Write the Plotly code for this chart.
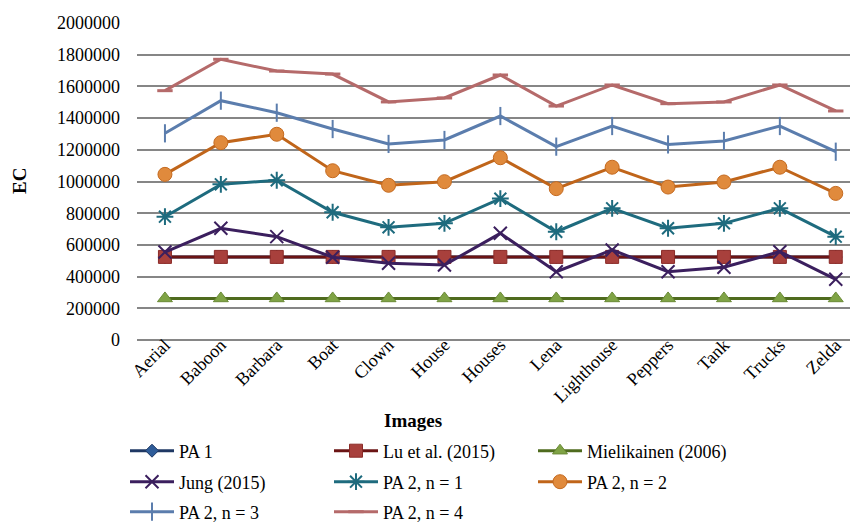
import plotly.graph_objects as go

images = ["Aerial", "Baboon", "Barbara", "Boat", "Clown", "House", "Houses",
          "Lena", "Lighthouse", "Peppers", "Tank", "Trucks", "Zelda"]

pa1 = [524288] * 13
lu_2015 = [524288] * 13
mielikainen_2006 = [262144] * 13
jung_2015 = [555000, 705000, 652000, 522000, 484000, 473000, 673000,
             431000, 568000, 431000, 459000, 557000, 383000]
pa2_n1 = [778000, 982000, 1008000, 806000, 711000, 736000, 892000,
          683000, 831000, 705000, 736000, 831000, 652000]
pa2_n2 = [1045000, 1245000, 1298000, 1068000, 976000, 999000, 1150000,
          955000, 1090000, 965000, 997000, 1090000, 925000]
pa2_n3 = [1304000, 1510000, 1434000, 1331000, 1237000, 1262000, 1413000,
          1220000, 1350000, 1234000, 1256000, 1350000, 1188000]
pa2_n4 = [1573000, 1771000, 1697000, 1678000, 1502000, 1527000, 1672000,
          1476000, 1609000, 1491000, 1502000, 1609000, 1445000]

yticks = [0, 200000, 400000, 600000, 800000, 1000000, 1200000, 1400000,
          1600000, 1800000, 2000000]

FONT = "Liberation Serif, Times New Roman, serif"

series = [
    ("PA 1", pa1, "#1F3864", dict(symbol="diamond", size=10, color="#2E5C99",
                                   line=dict(color="#1F3864", width=1)), "legend"),
    ("Lu et al. (2015)", lu_2015, "#6B1414", dict(symbol="square", size=13, color="#A8403C",
                                                  line=dict(color="#8B2A27", width=1)), "legend"),
    ("Mielikainen (2006)", mielikainen_2006, "#4F6B1E", dict(symbol="triangle-up", size=13,
                                                          color="#7FA345",
                                                          line=dict(color="#6A8A36", width=1)), "legend"),
    ("Jung (2015)", jung_2015, "#3B1F5E", dict(symbol="x-thin-open", size=13,
                                               line=dict(color="#3B1F5E", width=2)), "legend2"),
    ("PA 2, n = 1", pa2_n1, "#1E6B7E", dict(symbol="asterisk-open", size=14,
                                            line=dict(color="#1E6B7E", width=2)), "legend2"),
    ("PA 2, n = 2", pa2_n2, "#C0651A", dict(symbol="circle", size=14, color="#E08A3C",
                                            line=dict(color="#C46A20", width=1)), "legend2"),
    ("PA 2, n = 3", pa2_n3, "#5B7DAD", dict(symbol="line-ns-open", size=13,
                                            line=dict(color="#5B7DAD", width=2)), "legend3"),
    ("PA 2, n = 4", pa2_n4, "#B56A6A", dict(symbol="line-ew-open", size=11,
                                            line=dict(color="#B56A6A", width=3)), "legend3"),
]

fig = go.Figure()
for name, vals, col, mk, lg in series:
    fig.add_trace(go.Scatter(
        x=images, y=vals, name=name, mode="lines+markers",
        line=dict(color=col, width=3), marker=mk, legend=lg,
    ))

legend_common = dict(
    orientation="h", xref="container", yref="container",
    xanchor="left", yanchor="middle", x=125 / 850,
    font=dict(family=FONT, size=18, color="#000000"),
    entrywidth=145, entrywidthmode="pixels", itemwidth=44,
    bgcolor="rgba(0,0,0,0)", borderwidth=0,
)

fig.update_layout(
    width=850, height=523,
    margin=dict(l=137, r=0, t=23, b=183),
    paper_bgcolor="white", plot_bgcolor="white",
    font=dict(family=FONT, size=18, color="#000000"),
    showlegend=True,
    legend=dict(legend_common, y=1 - 451 / 523),
    legend2=dict(legend_common, y=1 - 482 / 523),
    legend3=dict(legend_common, y=1 - 512 / 523),
    xaxis=dict(
        type="category", range=[-0.5, 12.255], tickangle=-45,
        showgrid=False, showline=False, zeroline=False, automargin=False,
        tickfont=dict(family=FONT, size=18, color="#000000"),
        ticks="", ticklabelstandoff=-10, fixedrange=True,
    ),
    yaxis=dict(
        range=[0, 2000000], tickvals=yticks, tickformat="d",
        showgrid=True, gridcolor="#868686", gridwidth=1.5,
        zeroline=True, zerolinecolor="#868686", zerolinewidth=1.5,
        showline=False, ticks="", ticklabelstandoff=16, automargin=False,
        tickfont=dict(family=FONT, size=18, color="#000000"),
        fixedrange=True,
    ),
    annotations=[
        dict(text="<b>Images</b>", xref="paper", yref="paper",
             x=(413 - 137) / 713, y=(340 - 420) / 317, showarrow=False,
             xanchor="center", yanchor="middle",
             font=dict(family=FONT, size=19, color="#000000")),
        dict(text="<b>EC</b>", xref="paper", yref="paper",
             x=(19 - 137) / 713, y=(340 - 181) / 317, showarrow=False,
             xanchor="center", yanchor="middle", textangle=-90,
             font=dict(family=FONT, size=19, color="#000000")),
    ],
)

fig.write_html("out.html", config={"displayModeBar": False},
               post_script="document.body.style.margin='0';")
